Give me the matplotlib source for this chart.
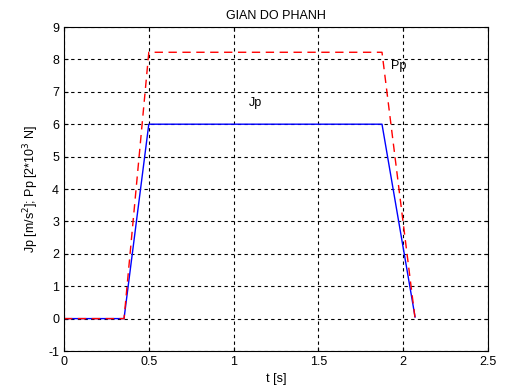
import matplotlib.pyplot as plt

# time points and values
t = [0, 0.354, 0.5, 1.875, 2.07]
jp = [0, 0, 6.0, 6.0, 0.05]
pp = [0, 0, 8.22, 8.22, 0.0]

plt.rcParams['font.family'] = ['Liberation Sans', 'DejaVu Sans']
plt.rcParams['font.size'] = 9
plt.rcParams['axes.unicode_minus'] = False

fig = plt.figure(figsize=(5.2, 3.86), dpi=100)
ax = fig.add_axes([64/520, 35/386, 424/520, 324/386])

ax.plot(t, jp, color='blue', lw=1)
ax.plot(t, pp, color='red', lw=1, dashes=(6, 4))
ax.text(1.09, 6.55, 'Jp')
ax.text(1.93, 7.7, 'Pp')

ax.set_xlim(0, 2.5)
ax.set_ylim(-1, 9)
ax.set_xticks([0, 0.5, 1, 1.5, 2, 2.5])
ax.set_xticklabels(['0', '0.5', '1', '1.5', '2', '2.5'])
ax.set_yticks(range(-1, 10))
ax.tick_params(direction='in', length=3, top=True, right=True)
ax.grid(True, color='black', linestyle=(0, (3, 3)), lw=0.8)
ax.set_title('GIAN DO PHANH', fontsize=9)
ax.set_xlabel('t [s]')
ax.set_ylabel('Jp [m/s$^2$]; Pp [2*10$^3$ N]', labelpad=5)

plt.savefig('out.png')
